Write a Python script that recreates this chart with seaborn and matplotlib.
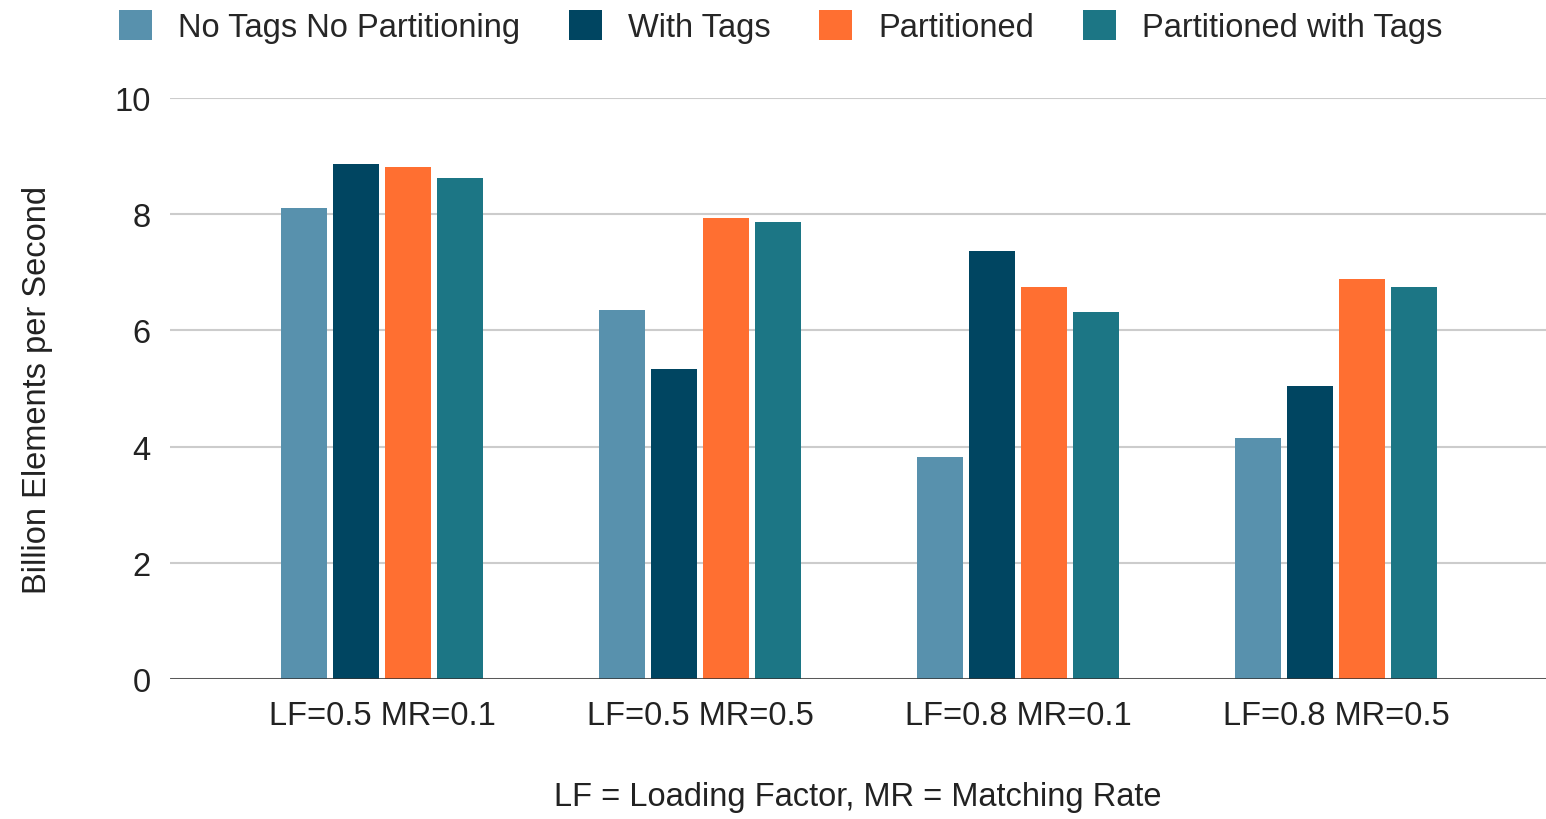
import matplotlib
matplotlib.use("Agg")
import matplotlib.pyplot as plt
import seaborn as sns
import pandas as pd
from matplotlib.patches import Patch

# datos
configs = ["LF=0.5 MR=0.1", "LF=0.5 MR=0.5", "LF=0.8 MR=0.1", "LF=0.8 MR=0.5"]
series = ["No Tags No Partitioning", "With Tags", "Partitioned", "Partitioned with Tags"]
no_tags_no_part = [8.1, 6.35, 3.82, 4.15]
with_tags = [8.87, 5.33, 7.36, 5.05]
partitioned = [8.82, 7.93, 6.75, 6.88]
part_with_tags = [8.63, 7.87, 6.32, 6.75]
colores = ["#5891ad", "#004561", "#ff6f31", "#1c7685"]

df = pd.DataFrame({
    "config": configs * 4,
    "serie": [s for s in series for _ in configs],
    "valor": no_tags_no_part + with_tags + partitioned + part_with_tags,
})

sns.set_style("white")
plt.rcParams["font.family"] = ["Liberation Sans", "DejaVu Sans"]

fig = plt.figure(figsize=(15.46, 8.2), dpi=100)
ax = fig.add_axes([0.110, 0.1707, 0.890, 0.7085])

sns.barplot(data=df, x="config", y="valor", hue="serie", palette=colores,
            width=0.654, gap=0.12, saturation=1, legend=False, ax=ax,
            linewidth=0, zorder=3)

ax.set_ylim(0, 10)
ax.set_xlim(-0.667, 3.66)
ax.set_yticks([0, 2, 4, 6, 8, 10])
ax.yaxis.grid(True, color="#cccccc", linewidth=1.5, zorder=0)
ax.axhline(0, color="#333333", linewidth=1.8, zorder=4)
for s in ax.spines.values():
    s.set_visible(False)
ax.tick_params(axis="both", length=0, labelsize=23.5, colors="#222222")
ax.tick_params(axis="x", pad=15)
ax.tick_params(axis="y", pad=14)

ax.set_xlabel("LF = Loading Factor, MR = Matching Rate", fontsize=23.5,
              color="#222222", labelpad=36)
ax.set_ylabel("Billion Elements per Second", fontsize=23.5, color="#222222",
              labelpad=44)

handles = [Patch(facecolor=c, edgecolor="none") for c in colores]
fig.legend(handles, series, loc="upper center", bbox_to_anchor=(0.505, 1.022),
           ncol=4, frameon=False, fontsize=23.5, handlelength=1.0,
           handleheight=1.0, handletextpad=0.8, columnspacing=1.5)

fig.savefig("out.png", dpi=100)
